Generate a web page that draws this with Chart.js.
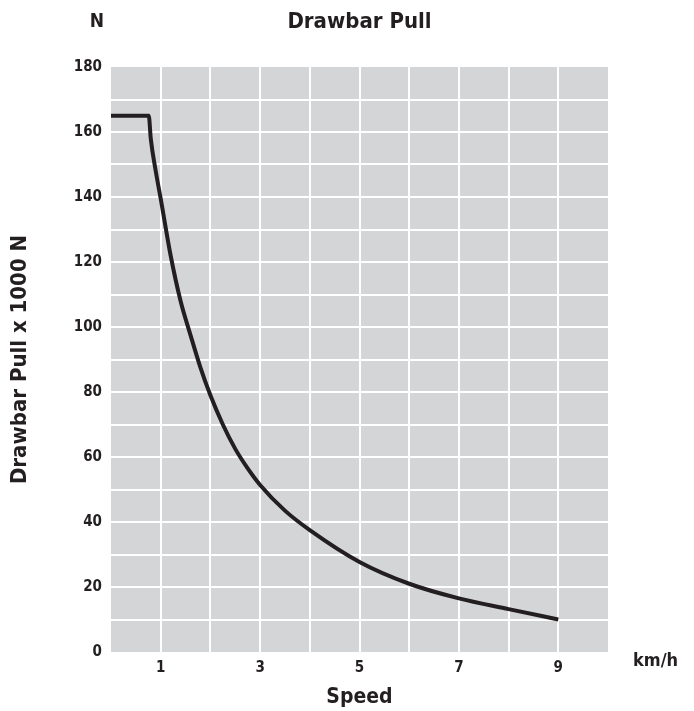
<!DOCTYPE html>
<html>
<head>
<meta charset="utf-8">
<script src="https://cdn.jsdelivr.net/npm/chart.js@4.4.1/dist/chart.umd.min.js"></script>
<style>
  html, body { margin: 0; padding: 0; background: #fff; }
  #wrap { width: 694px; height: 711px; }
</style>
</head>
<body>
<div id="wrap"><canvas id="pullChart"></canvas></div>
<script>
// values
var speeds = [0, 0.76, 0.8, 0.9, 1, 1.2, 1.4, 1.6, 1.8, 2, 2.25, 2.5, 2.75, 3, 3.5, 4, 5, 6, 7, 8, 9];
var pulls  = [165, 165, 158, 148, 139.5, 122, 108, 97.5, 87.5, 79, 70, 62.5, 56.5, 51.4, 43.5, 37.5, 27.7, 21, 16.5, 13.2, 10];
var xTickLabels = [1, 3, 5, 7, 9];
var yTickLabels = [0, 20, 40, 60, 80, 100, 120, 140, 160, 180];

var FONT = '"Liberation Sans Narrow", "DejaVu Sans Condensed", Arial, sans-serif';
var INK = '#231f20';

var points = speeds.map(function (s, i) { return { x: s, y: pulls[i] }; });

var extraText = {
    id: 'extraText',
    beforeDraw: function (chart) {
        var c = chart.ctx, a = chart.chartArea;
        c.save();
        c.fillStyle = '#d4d5d7';
        c.fillRect(a.left, a.top, a.right - a.left, a.bottom - a.top);
        c.restore();
    },
    afterDraw: function (chart) {
        var c = chart.ctx, a = chart.chartArea;
        c.save();
        c.fillStyle = INK;
        c.textBaseline = 'middle';
        c.textAlign = 'center';
        c.font = 'bold 22px ' + FONT;
        c.fillText('Drawbar Pull', (a.left + a.right) / 2, 22);
        c.font = 'bold 19px ' + FONT;
        c.fillText('N', 97, 22);
        c.font = 'bold 18px ' + FONT;
        c.textAlign = 'left';
        c.fillText('km/h', 633, 661);
        c.restore();
    }
};

var ctx = document.getElementById('pullChart').getContext('2d');
var myChart = new Chart(ctx, {
    type: 'line',
    data: {
        datasets: [{
            label: 'Drawbar Pull',
            data: points,
            borderColor: INK,
            borderWidth: 4,
            pointRadius: 0,
            cubicInterpolationMode: 'monotone',
            fill: false
        }]
    },
    options: {
        responsive: true,
        maintainAspectRatio: false,
        animation: false,
        layout: { padding: { top: 67, right: 86, left: 4, bottom: 0 } },
        plugins: { legend: { display: false }, tooltip: { enabled: false } },
        scales: {
            x: {
                type: 'linear',
                min: 0,
                max: 10,
                border: { display: false },
                afterFit: function (s) { s.height = 59; },
                grid: {
                    lineWidth: 2,
                    drawTicks: false,
                    color: function (c) {
                        var v = c.tick ? c.tick.value : 0;
                        return (v === 0 || v === 10) ? 'rgba(0,0,0,0)' : '#ffffff';
                    }
                },
                ticks: {
                    stepSize: 1,
                    autoSkip: false,
                    padding: 7,
                    color: INK,
                    font: { family: FONT, size: 15, weight: 'bold' },
                    callback: function (v) { return xTickLabels.indexOf(v) >= 0 ? String(v) : ''; }
                },
                title: {
                    display: true,
                    text: 'Speed',
                    color: INK,
                    padding: { top: 0, bottom: 1 },
                    font: { family: FONT, size: 21, weight: 'bold' }
                }
            },
            y: {
                min: 0,
                max: 180,
                border: { display: false },
                afterFit: function (s) { s.width = 107; },
                grid: {
                    lineWidth: 2,
                    drawTicks: false,
                    color: function (c) {
                        var v = c.tick ? c.tick.value : 0;
                        return (v === 0 || v === 180) ? 'rgba(0,0,0,0)' : '#ffffff';
                    }
                },
                ticks: {
                    stepSize: 10,
                    autoSkip: false,
                    padding: 9,
                    color: INK,
                    font: { family: FONT, size: 15, weight: 'bold' },
                    callback: function (v) { return yTickLabels.indexOf(v) >= 0 ? String(v) : ''; }
                },
                title: {
                    display: true,
                    text: 'Drawbar Pull x 1000 N',
                    color: INK,
                    padding: { top: 3, bottom: 0 },
                    font: { family: FONT, size: 22, weight: 'bold' }
                }
            }
        }
    },
    plugins: [extraText]
});
</script>
</body>
</html>
